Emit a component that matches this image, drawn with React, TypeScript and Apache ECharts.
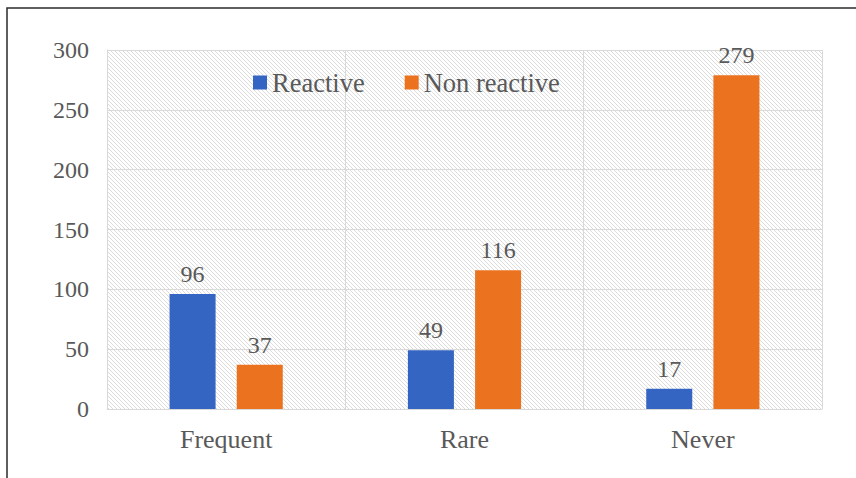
import React, { useEffect, useRef } from "react";
import * as echarts from "echarts";

const categories = ["Frequent", "Rare", "Never"];
const reactive = [96, 49, 17];
const nonReactive = [37, 116, 279];
const seriesNames = ["Reactive", "Non reactive"];
const yTicks = { min: 0, max: 300, interval: 50 };

const FONT = "'Liberation Serif', 'Times New Roman', serif";
const TEXT = "#595959";

const hatchSvg =
  "<svg xmlns='http://www.w3.org/2000/svg' width='4' height='4'>" +
  "<rect width='4' height='4' fill='#ffffff'/>" +
  "<path d='M-1,-1 L5,5 M-1,3 L1,5 M3,-1 L5,1' stroke='#dcdcdc' stroke-width='1'/></svg>";
const hatchUrl = "data:image/svg+xml;charset=utf-8," + encodeURIComponent(hatchSvg);

export default function App() {
  const ref = useRef<HTMLDivElement>(null);
  useEffect(() => {
    document.body.style.margin = "0";
    const chart = echarts.init(ref.current!, null, { renderer: "svg" });
    chart.setOption({
      animation: false,
      backgroundColor: "#ffffff",
      textStyle: { fontFamily: FONT },
      graphic: [
        {
          type: "rect",
          shape: { x: 7, y: 8, width: 900, height: 500 },
          style: { fill: "none", stroke: "#2a2a2a", lineWidth: 1.5 },
          z: 100,
          silent: true,
        },
      ],
      legend: {
        data: seriesNames,
        top: 64,
        left: 248,
        itemWidth: 14,
        itemHeight: 14,
        itemGap: 40,
        icon: "rect",
        textStyle: { fontFamily: FONT, fontSize: 26.5, color: TEXT },
      },
      grid: {
        left: 107,
        right: 34,
        top: 50,
        bottom: 69,
        show: true,
        borderWidth: 0,
        backgroundColor: { image: hatchUrl, repeat: "repeat" },
      },
      xAxis: {
        type: "category",
        data: categories,
        axisLine: { show: true, lineStyle: { color: "#d9d9d9", width: 1 } },
        axisTick: { show: false },
        splitLine: { show: true, interval: 0, lineStyle: { color: "#d9d9d9", width: 1 } },
        axisLabel: { fontFamily: FONT, fontSize: 26, color: TEXT, margin: 17 },
      },
      yAxis: {
        type: "value",
        min: yTicks.min,
        max: yTicks.max,
        interval: yTicks.interval,
        axisLine: { show: true, lineStyle: { color: "#d9d9d9" } },
        axisTick: { show: false },
        splitLine: { show: true, lineStyle: { color: "#d9d9d9", width: 1 } },
        axisLabel: { fontFamily: FONT, fontSize: 24, color: TEXT, margin: 18 },
      },
      series: [
        {
          name: seriesNames[0],
          type: "bar",
          data: reactive,
          barGap: "46%",
          barCategoryGap: "52.5%",
          itemStyle: { color: "#3565c3" },
          label: { show: true, position: "top", distance: 8, fontFamily: FONT, fontSize: 24, color: TEXT },
        },
        {
          name: seriesNames[1],
          type: "bar",
          data: nonReactive,
          barGap: "46%",
          barCategoryGap: "52.5%",
          itemStyle: { color: "#eb7320" },
          label: { show: true, position: "top", distance: 8, fontFamily: FONT, fontSize: 24, color: TEXT },
        },
      ],
    });
    return () => chart.dispose();
  }, []);
  return (
    <div
      ref={ref}
      style={{ position: "fixed", left: 0, top: 0, width: 856, height: 478 }}
    />
  );
}
